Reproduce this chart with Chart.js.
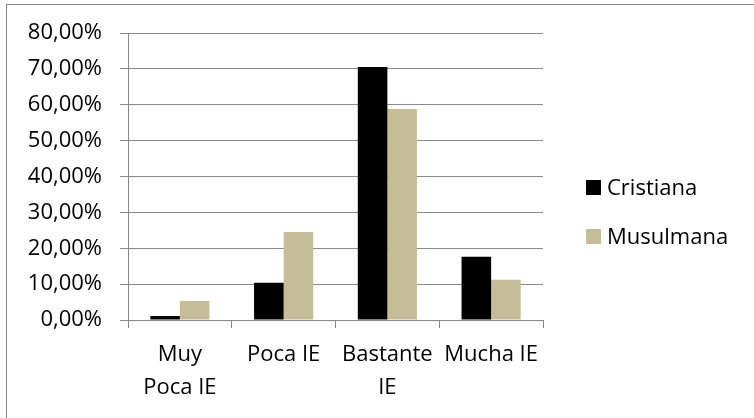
<!DOCTYPE html>
<html>
<head>
<meta charset="utf-8">
<script src="https://cdn.jsdelivr.net/npm/chart.js@4.4.0/dist/chart.umd.min.js"></script>
<style>
  html, body { margin: 0; padding: 0; background: #fff; overflow: hidden; }
</style>
</head>
<body>
<canvas id="graficoIE" width="754" height="418"></canvas>
<script>
const categorias = [['Muy', 'Poca IE'], 'Poca IE', ['Bastante', 'IE'], 'Mucha IE'];
const cristiana = [1.1, 10.4, 70.5, 17.6];
const musulmana = [5.3, 24.5, 58.8, 11.2];

const fuente = { family: '"Open Sans", sans-serif', size: 22 };
const gris = '#8a8a8a';

// marco exterior del gráfico
const marco = {
  id: 'marco',
  beforeDraw(chart) {
    const ctx = chart.ctx;
    ctx.save();
    ctx.strokeStyle = gris;
    ctx.lineWidth = 1;
    ctx.strokeRect(6.5, 4.5, 780, 440);
    ctx.restore();
  }
};

// leyenda a la derecha, con cuadrados y nombres de cada serie
const leyenda = {
  id: 'leyenda',
  afterDraw(chart) {
    const ctx = chart.ctx;
    ctx.save();
    ctx.font = '22px "Open Sans", sans-serif';
    ctx.textBaseline = 'middle';
    ctx.textAlign = 'left';
    chart.data.datasets.forEach((ds, i) => {
      const y = 187.5 + i * 49;
      ctx.fillStyle = ds.backgroundColor;
      ctx.fillRect(586, y - 7.5, 15, 15);
      ctx.fillStyle = '#000';
      ctx.fillText(ds.label, 607, y + 1);
    });
    ctx.restore();
  }
};

const ctx = document.getElementById('graficoIE').getContext('2d');

const chart = new Chart(ctx, {
  type: 'bar',
  data: {
    labels: categorias,
    datasets: [
      {
        label: 'Cristiana',
        data: cristiana,
        backgroundColor: '#000000',
        borderWidth: 0,
        barPercentage: 1,
        categoryPercentage: 0.57
      },
      {
        label: 'Musulmana',
        data: musulmana,
        backgroundColor: '#c4bd97',
        borderWidth: 0,
        barPercentage: 1,
        categoryPercentage: 0.57
      }
    ]
  },
  options: {
    responsive: false,
    devicePixelRatio: 1,
    animation: false,
    layout: { padding: { left: 10, top: 33, right: 211, bottom: 0 } },
    plugins: {
      legend: { display: false },
      tooltip: { enabled: false }
    },
    scales: {
      x: {
        grid: { offset: true, drawOnChartArea: false, tickLength: 8, color: gris },
        border: { color: gris },
        ticks: {
          color: '#000',
          font: { ...fuente, lineHeight: 1.5 },
          padding: 10,
          maxRotation: 0
        },
        afterFit: s => { s.height = 98; }
      },
      y: {
        min: 0,
        max: 80,
        ticks: {
          stepSize: 10,
          color: '#000',
          font: fuente,
          padding: 18,
          callback: v => v.toFixed(2).replace('.', ',') + '%'
        },
        grid: { color: gris, tickLength: 8 },
        border: { color: gris },
        afterFit: s => { s.width = 118; }
      }
    }
  },
  plugins: [marco, leyenda]
});
</script>
</body>
</html>
